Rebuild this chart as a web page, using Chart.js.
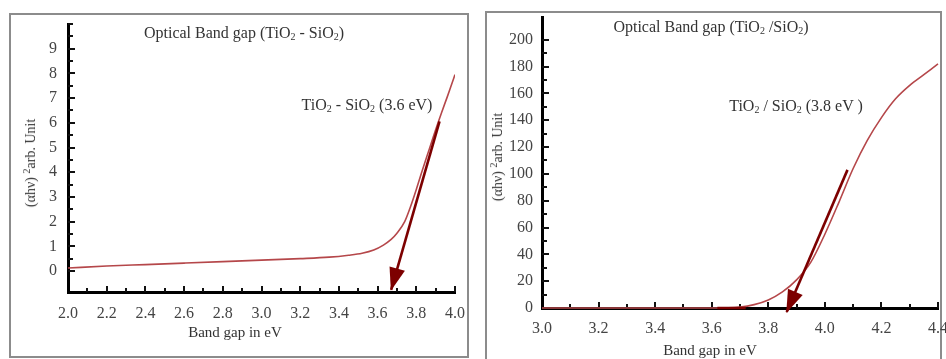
<!DOCTYPE html>
<html>
<head>
<meta charset="utf-8">
<script src="https://cdn.jsdelivr.net/npm/chart.js@4.4.1/dist/chart.umd.min.js"></script>
<style>
  body { margin:0; background:#fff; width:946px; height:359px; overflow:hidden; position:relative;
         font-family:"Liberation Serif", "DejaVu Serif", serif; color:#333; }
  .box { position:absolute; border:2px solid #8c8c8c; background:#fff; }
  .box canvas { position:absolute; left:0; top:0; }
  .txt { position:absolute; white-space:nowrap; font-size:16px; line-height:1; transform:translate(-50%,-50%); }
  .txt sub { font-size:10px; vertical-align:-2px; }
  .txt sup { font-size:10px; vertical-align:5px; }
  .small { font-size:15px; }
  .rot { transform:translate(-50%,-50%) rotate(-90deg); font-size:14px; }
</style>
</head>
<body>

<div class="box" style="left:9px; top:13px; width:456px; height:341px;">
  <canvas id="leftChart" width="456" height="341"></canvas>
</div>
<div class="box" style="left:485px; top:11px; width:453px; height:360px;">
  <canvas id="rightChart" width="462" height="346"></canvas>
</div>

<div class="txt" style="left:244px; top:33px;">Optical Band gap (TiO<sub>2</sub> - SiO<sub>2</sub>)</div>
<div class="txt" style="left:367px; top:105px;">TiO<sub>2</sub> - SiO<sub>2</sub> (3.6 eV)</div>
<div class="txt small" style="left:235px; top:332px;">Band gap in eV</div>
<div class="txt rot" style="left:30px; top:163px;">(αhν) <sup>2</sup>arb. Unit</div>

<div class="txt" style="left:711px; top:27px;">Optical Band gap (TiO<sub>2</sub> /SiO<sub>2</sub>)</div>
<div class="txt" style="left:796px; top:106px;">TiO<sub>2</sub> / SiO<sub>2</sub> (3.8 eV )</div>
<div class="txt small" style="left:710px; top:350px;">Band gap in eV</div>
<div class="txt rot" style="left:497px; top:157px;">(αhν) <sup>2</sup>arb. Unit</div>

<script>
// left panel: TiO2 - SiO2
const leftX = [2.0, 2.2, 2.4, 2.6, 2.8, 3.0, 3.2, 3.35, 3.45, 3.52, 3.58, 3.63, 3.67, 3.70, 3.74, 3.77, 3.80, 3.83, 3.87, 3.90, 3.93, 3.96, 3.98, 4.0]
const leftY = [0.12, 0.2, 0.26, 0.32, 0.38, 0.44, 0.5, 0.56, 0.64, 0.72, 0.85, 1.05, 1.28, 1.53, 2.0, 2.6, 3.3, 4.05, 5.0, 5.72, 6.4, 7.05, 7.5, 7.95]
const leftArrowX = [3.92, 3.67]
const leftArrowY = [6.06, -0.76]
const leftXLabels = [2.0, 2.2, 2.4, 2.6, 2.8, 3.0, 3.2, 3.4, 3.6, 3.8, 4.0]
const leftYLabels = [0, 1, 2, 3, 4, 5, 6, 7, 8, 9]

// right panel: TiO2 / SiO2
const rightX = [3.0, 3.2, 3.4, 3.6, 3.7, 3.75, 3.8, 3.85, 3.9, 3.95, 4.0, 4.05, 4.1, 4.15, 4.2, 4.25, 4.3, 4.35, 4.4]
const rightY = [0, 0, 0, 0, 0.7, 2.5, 6, 12, 21, 34, 55, 79, 104, 125, 142, 156, 166, 174, 182]
const rightDarkX = [3.62, 3.72]
const rightDarkY = [0, 0]
const rightArrowX = [4.08, 3.865]
const rightArrowY = [103, -3]
const rightXLabels = [3.0, 3.2, 3.4, 3.6, 3.8, 4.0, 4.2, 4.4]
const rightYLabels = [0, 20, 40, 60, 80, 100, 120, 140, 160, 180, 200]

const curveColor = '#b5474a'
const arrowColor = '#7d0000'
const font = {family: '"Liberation Serif", serif', size: 16}

function pts(xs, ys){
  return xs.map((x, i) => ({x: x, y: ys[i]}))
}
function has(list, v){
  return list.some(m => Math.abs(m - v) < 1e-6)
}

// tick marks drawn inside the plot (like the original figure)
const insideTicks = {
  id: 'insideTicks',
  beforeDatasetsDraw(chart, args, o){
    const ctx = chart.ctx
    const sx = chart.scales.x, sy = chart.scales.y
    ctx.save()
    ctx.strokeStyle = '#111'
    ctx.lineWidth = 2
    sx.ticks.forEach(t => {
      const v = t.value
      if (Math.abs(Math.round(v / o.xStep) * o.xStep - v) > 1e-6) return
      if (v <= sx.min + 1e-6) return
      const len = has(o.xMajor, v) ? 6 : 4
      const px = Math.round(sx.getPixelForValue(v))
      ctx.beginPath(); ctx.moveTo(px, sx.top); ctx.lineTo(px, sx.top - len); ctx.stroke()
    })
    sy.ticks.forEach(t => {
      const v = t.value
      if (Math.abs(Math.round(v / o.yStep) * o.yStep - v) > 1e-6) return
      if (v <= sy.min + 1e-6) return
      const len = has(o.yMajor, v) ? 7 : 5
      const py = Math.round(sy.getPixelForValue(v))
      ctx.beginPath(); ctx.moveTo(sy.right, py); ctx.lineTo(sy.right + len, py); ctx.stroke()
    })
    ctx.restore()
  }
}

const arrowHead = {
  id: 'arrowHead',
  afterDatasetsDraw(chart){
    const ctx = chart.ctx
    chart.data.datasets.forEach((ds, i) => {
      if (!ds.arrow) return
      const p = chart.getDatasetMeta(i).data
      const a = p[p.length - 2], b = p[p.length - 1]
      const ang = Math.atan2(b.y - a.y, b.x - a.x)
      ctx.save()
      ctx.translate(b.x, b.y)
      ctx.rotate(ang)
      ctx.fillStyle = ds.borderColor
      ctx.beginPath()
      ctx.moveTo(1, 0); ctx.lineTo(-22, -8); ctx.lineTo(-22, 8); ctx.closePath()
      ctx.fill()
      ctx.restore()
    })
  }
}

function makeChart(id, cfg){
  return new Chart(document.getElementById(id), {
    type: 'scatter',
    data: {datasets: cfg.datasets},
    options: {
      responsive: false,
      animation: false,
      layout: {padding: cfg.padding},
      plugins: {legend: {display: false}, tooltip: {enabled: false}, insideTicks: cfg.ticks},
      elements: {point: {radius: 0}},
      scales: {
        x: {
          type: 'linear', min: cfg.xMin, max: cfg.xMax,
          grid: {display: false, drawTicks: false},
          border: {display: true, color: '#000', width: 3},
          ticks: {
            stepSize: cfg.ticks.xStep, autoSkip: false, maxRotation: 0, padding: cfg.xPad,
            color: '#444', font: font,
            callback: v => has(cfg.ticks.xMajor, v) ? v.toFixed(1) : ''
          },
          afterFit: s => { s.height = cfg.xHeight; s.paddingLeft = 0; s.paddingRight = 0 }
        },
        y: {
          type: 'linear', min: cfg.yMin, max: cfg.yMax,
          grid: {display: false, drawTicks: false},
          border: {display: true, color: '#000', width: 3},
          ticks: {
            stepSize: cfg.ticks.yStep, autoSkip: false, padding: cfg.yPad,
            color: '#444', font: font,
            callback: v => has(cfg.yLabels, v) ? String(Math.round(v)) : ''
          },
          afterFit: s => { s.width = cfg.yWidth; s.paddingTop = 0; s.paddingBottom = 0 }
        }
      }
    },
    plugins: [insideTicks, arrowHead]
  })
}

makeChart('leftChart', {
  xMin: 2, xMax: 4, yMin: -0.85, yMax: 10,
  padding: {top: 9, right: 12, bottom: 0, left: 0},
  xHeight: 64, yWidth: 57, xPad: 12, yPad: 11,
  yLabels: leftYLabels,
  ticks: {xStep: 0.1, yStep: 0.5, xMajor: leftXLabels, yMajor: leftYLabels},
  datasets: [
    {data: pts(leftArrowX, leftArrowY), showLine: true, borderColor: arrowColor, borderWidth: 2.6, arrow: true, clip: false},
    {data: pts(leftX, leftY), showLine: true, borderColor: curveColor, borderWidth: 1.6, cubicInterpolationMode: 'monotone'}
  ]
})

makeChart('rightChart', {
  xMin: 3, xMax: 4.4, yMin: 0, yMax: 217,
  padding: {top: 4, right: 11, bottom: 0, left: 0},
  xHeight: 51, yWidth: 55, xPad: 11, yPad: 9,
  yLabels: rightYLabels,
  ticks: {xStep: 0.1, yStep: 10, xMajor: rightXLabels, yMajor: rightYLabels},
  datasets: [
    {data: pts(rightArrowX, rightArrowY), showLine: true, borderColor: arrowColor, borderWidth: 2.6, arrow: true, clip: false},
    {data: pts(rightDarkX, rightDarkY), showLine: true, borderColor: arrowColor, borderWidth: 2.5, clip: false},
    {data: pts(rightX, rightY), showLine: true, borderColor: curveColor, borderWidth: 1.6, cubicInterpolationMode: 'monotone', clip: false}
  ]
})
</script>
</body>
</html>
